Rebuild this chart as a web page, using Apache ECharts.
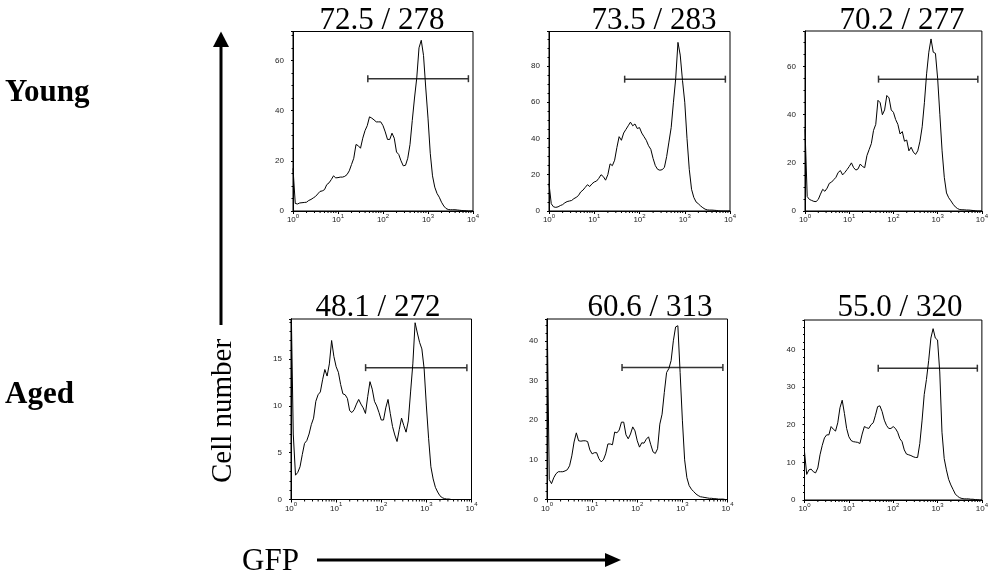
<!DOCTYPE html>
<html>
<head>
<meta charset="utf-8">
<title>GFP histograms, young vs aged</title>
<script src="https://cdn.jsdelivr.net/npm/echarts@6/dist/echarts.min.js"></script>
<style>
    html, body {margin: 0; padding: 0; background: #fff;}
    #main {width: 991px; height: 577px;}
</style>
</head>
<body>
<div id="main"></div>
<script>
// GFP bin centres, in decades (10^0 .. 10^4)
var gfpExp = [0, 0.05, 0.1, 0.15, 0.2, 0.25, 0.3, 0.35, 0.4, 0.45,
    0.5, 0.55, 0.6, 0.65, 0.7, 0.75, 0.8, 0.85, 0.9, 0.95,
    1, 1.05, 1.1, 1.15, 1.2, 1.25, 1.3, 1.35, 1.4, 1.45,
    1.5, 1.55, 1.6, 1.65, 1.7, 1.75, 1.8, 1.85, 1.9, 1.95,
    2, 2.05, 2.1, 2.15, 2.2, 2.25, 2.3, 2.35, 2.4, 2.45,
    2.5, 2.55, 2.6, 2.65, 2.7, 2.75, 2.8, 2.85, 2.9, 2.95,
    3, 3.05, 3.1, 3.15, 3.2, 3.25, 3.3, 3.35, 3.4, 3.45,
    3.5, 3.55, 3.6, 3.65, 3.7, 3.75, 3.8, 3.85, 3.9, 3.95,
    4];

// cell number per bin
var young1 = [17, 3, 2.8, 3.2, 3.3, 3.4, 3.5, 4.2, 4.6, 5.2,
    5.8, 6.8, 7.8, 8, 8.5, 10.5, 11.2, 12.5, 14, 13.2,
    13.3, 13.5, 13.5, 13.8, 14.5, 16, 18.5, 21, 26.5, 26,
    25, 29, 32, 34, 37.5, 37, 36.3, 35.5, 35.5, 35.5,
    34, 31.5, 28.5, 28.5, 31, 29, 23.5, 22.5, 20, 18,
    18.2, 21, 26.5, 36, 45, 53, 65, 68, 62, 49,
    37, 23, 14, 9.5, 7, 5.5, 3.5, 2, 1, 0.6,
    0.5, 0.5, 0.5, 0.4, 0.3, 0.2, 0.1, 0.1, 0, 0,
    0];
var young2 = [15, 4, 2.3, 2, 2.3, 3, 3.5, 4.5, 5.2, 5.5,
    5.8, 6.8, 7.5, 8.5, 10.5, 11.5, 13, 14.5, 13.5, 15,
    16, 16.5, 18, 20, 19, 17, 20, 26, 25, 28,
    35, 41, 39, 43, 45, 47, 49, 47, 48, 45.5,
    46, 43, 41, 39, 36, 34, 29, 25, 23, 22.5,
    22.8, 24, 30, 38, 46, 60, 73, 93, 86, 72,
    60, 40, 23, 12, 7.5, 5, 4, 2.8, 1.8, 1,
    0.6, 0.5, 0.5, 0.4, 0.3, 0.1, 0, 0, 0, 0,
    0];
var young3 = [34, 6, 4.8, 4.4, 4, 3.9, 4.8, 7, 9, 8.2,
    9.5, 11.5, 12, 13, 14, 16, 16.8, 15, 16, 17.2,
    18.5, 20, 18, 17, 17.5, 19.5, 18.5, 18, 23, 25.5,
    28, 33.5, 36, 46, 45, 40, 42, 48, 47, 42,
    41, 38, 36, 32, 33, 29, 29.5, 25, 26.5, 24.5,
    23.5, 25, 29, 35, 45, 57, 66, 71.5, 66, 65.5,
    55, 40, 25, 14, 7.5, 5.5, 4.2, 2.8, 1.7, 1,
    0.6, 0.5, 0.5, 0.4, 0.4, 0.3, 0.2, 0.1, 0, 0,
    0];
var aged1 = [22, 7, 2.6, 2.9, 3.5, 4.8, 6, 6.3, 7, 8,
    8.7, 10.5, 11.2, 11.5, 12.8, 13.9, 13.2, 14.5, 17, 15.3,
    14.2, 13.6, 12.3, 11.3, 11.2, 10.8, 9.5, 9.3, 9.6, 10.2,
    10.7, 10.2, 9.8, 9.2, 11, 12.6, 11.8, 10.5, 10, 9.3,
    8.5, 8.5, 9.8, 10.7, 9.2, 7.8, 6.9, 6.2, 7.5, 8.7,
    7.9, 7.2, 8.4, 11.5, 14.5, 18.9, 17.8, 16.8, 16.1, 14,
    10, 6.5, 3.5, 2.2, 1.3, 0.8, 0.4, 0.2, 0.1, 0.05,
    0.05, 0, 0, 0, 0, 0, 0, 0, 0, 0,
    0];
var aged2 = [50, 5, 4, 5.5, 6.5, 7, 7, 7, 7.2, 7.5,
    8.5, 11, 14.5, 16.8, 14.8, 14.7, 14.8, 14.8, 14.6, 12.5,
    11.5, 11.8, 11.8, 10.3, 9.5, 10, 11.5, 14, 14, 13.8,
    17, 16.8, 17.5, 19.5, 19.5, 16.3, 15.3, 16.5, 18.3, 17.3,
    14.8, 13.2, 14.3, 14.2, 15.2, 15.8, 13.8, 12, 11.6, 12.8,
    19, 21.5, 27, 32, 33, 35, 40, 43.5, 43.8, 32,
    20, 10, 5.5, 3.5, 2.6, 2, 1.4, 1, 0.7, 0.6,
    0.5, 0.4, 0.3, 0.3, 0.2, 0.2, 0.1, 0.1, 0.1, 0,
    0];
var aged3 = [12.8, 6.8, 8, 8.2, 7.5, 7.2, 8.5, 12, 14.5, 16.5,
    17.3, 17.3, 19.5, 18.8, 18.3, 20.5, 24.5, 26.5, 23, 19,
    16.8, 15.8, 15.5, 15.4, 15.3, 15, 17.5, 19.5, 19.2, 19,
    20, 20.5, 22.5, 24.8, 25, 23.5, 21.2, 19.8, 19, 19,
    19.5, 19, 18, 16.3, 15.5, 13.3, 12.2, 12, 11.8, 11.5,
    11.3, 11.3, 15, 21, 28, 32, 37, 43, 45.5, 43,
    42.5, 34, 18, 11, 8, 5.5, 4, 2.8, 1.6, 1,
    0.6, 0.4, 0.3, 0.3, 0.3, 0.2, 0.2, 0.1, 0.1, 0,
    0];

var panelData = [young1, young2, young3, aged1, aged2, aged3];
var panelTitles = ['72.5 / 278', '73.5 / 283', '70.2 / 277', '48.1 / 272', '60.6 / 313', '55.0 / 320'];

// y axis range / step of each panel
var yMax = [71.5, 99, 74.8, 19.3, 45.5, 47.8];
var yStep = [20, 20, 20, 5, 10, 10];
var yMinorSplit = [4, 4, 4, 5, 5, 5];

// GFP+ gate (from, to, at height)
var gateLo = [46, 47, 46, 45, 46, 46];
var gateHi = [7900, 7900, 8100, 7900, 7900, 7900];
var gateY = [52.7, 72.7, 54.8, 14.1, 33.3, 35];

// log minor ticks on the GFP axis
var minorTickVals = [2, 3, 4, 5, 6, 7, 8, 9,
    20, 30, 40, 50, 60, 70, 80, 90,
    200, 300, 400, 500, 600, 700, 800, 900,
    2000, 3000, 4000, 5000, 6000, 7000, 8000, 9000];

// panel boxes in px [left, top, width, height] and title centre [x, y]
var boxes = [
    [293, 31.5, 180, 179.5], [549, 31.5, 181, 179.5], [805, 31, 180, 180],
    [291, 319, 180.5, 180.5], [547, 319, 180.5, 180.5], [804.5, 320, 180.5, 180]
];
var titlePos = [[382, 21], [654, 21], [902, 21], [378, 308], [650, 308], [900, 308]];

var serifFont = '"Liberation Serif", "Times New Roman", serif';
var sansFont = '"Liberation Sans", Arial, sans-serif';

function renderMinorTick(params, api) {
    var p = api.coord([api.value(0), 0]);
    return {
        type: 'line',
        shape: {x1: p[0], y1: p[1], x2: p[0], y2: p[1] + 2},
        style: {stroke: '#000', lineWidth: 1}
    };
}

function renderGate(params, api) {
    var a = api.coord([api.value(0), api.value(2)]);
    var b = api.coord([api.value(1), api.value(2)]);
    var st = {stroke: '#333', lineWidth: 1.5};
    return {
        type: 'group',
        children: [
            {type: 'line', shape: {x1: a[0], y1: a[1], x2: b[0], y2: b[1]}, style: st},
            {type: 'line', shape: {x1: a[0], y1: a[1] - 3.5, x2: a[0], y2: a[1] + 3.5}, style: st},
            {type: 'line', shape: {x1: b[0], y1: b[1] - 3.5, x2: b[0], y2: b[1] + 3.5}, style: st}
        ]
    };
}

var grids = [], xAxes = [], yAxes = [], series = [], graphics = [];

for (var i = 0; i < panelData.length; i++) {
    var bx = boxes[i];
    grids.push({
        left: bx[0], top: bx[1], width: bx[2], height: bx[3],
        show: true,
        borderColor: '#000',
        borderWidth: 1,
        backgroundColor: 'rgba(0,0,0,0)'
    });

    xAxes.push({
        type: 'log',
        logBase: 10,
        gridIndex: i,
        min: 1,
        max: 10000,
        axisLine: {show: true, onZero: false, lineStyle: {color: '#000', width: 1}},
        axisTick: {show: true, length: 3, lineStyle: {color: '#000'}},
        splitLine: {show: false},
        axisLabel: {
            margin: 2,
            color: '#222',
            fontFamily: sansFont,
            showMinLabel: true,
            showMaxLabel: true,
            formatter: function (v) {
                return '{b|10}{s|' + Math.round(Math.log(v) / Math.LN10) + '}';
            },
            rich: {
                b: {fontSize: 8, lineHeight: 11, verticalAlign: 'bottom', fontFamily: sansFont, color: '#222'},
                s: {fontSize: 6, lineHeight: 6, verticalAlign: 'top', fontFamily: sansFont, color: '#222'}
            }
        }
    });

    yAxes.push({
        type: 'value',
        gridIndex: i,
        min: 0,
        max: yMax[i],
        interval: yStep[i],
        axisLine: {show: true, lineStyle: {color: '#000', width: 1}},
        axisTick: {show: true, length: 2, lineStyle: {color: '#000'}},
        minorTick: {show: true, splitNumber: yMinorSplit[i], length: 1.5, lineStyle: {color: '#000'}},
        splitLine: {show: false},
        axisLabel: {
            margin: 9,
            fontSize: 8,
            color: '#222',
            fontFamily: sansFont,
            showMaxLabel: false
        }
    });

    // histogram trace
    var pts = [];
    for (var j = 0; j < gfpExp.length; j++) {
        pts.push([Math.pow(10, gfpExp[j]), panelData[i][j]]);
    }
    series.push({
        type: 'line',
        xAxisIndex: i,
        yAxisIndex: i,
        data: pts,
        showSymbol: false,
        symbol: 'none',
        clip: true,
        silent: true,
        lineStyle: {color: '#000', width: 1}
    });

    // gate bar
    series.push({
        type: 'custom',
        xAxisIndex: i,
        yAxisIndex: i,
        renderItem: renderGate,
        encode: {x: [0, 1], y: 2},
        data: [[gateLo[i], gateHi[i], gateY[i]]],
        silent: true,
        clip: false,
        z: 3
    });

    // minor log ticks
    var mt = [];
    for (var k = 0; k < minorTickVals.length; k++) {
        mt.push([minorTickVals[k], 0]);
    }
    series.push({
        type: 'custom',
        xAxisIndex: i,
        yAxisIndex: i,
        renderItem: renderMinorTick,
        data: mt,
        silent: true,
        clip: false
    });

    // panel header
    graphics.push({
        type: 'text',
        x: titlePos[i][0],
        y: titlePos[i][1],
        z: -1,
        style: {
            text: panelTitles[i],
            font: '31px ' + serifFont,
            fill: '#000',
            align: 'center',
            verticalAlign: 'middle'
        }
    });
}

// row labels
graphics.push({
    type: 'text', x: 5, y: 93,
    style: {text: 'Young', font: 'bold 31px ' + serifFont, fill: '#000', align: 'left', verticalAlign: 'middle'}
});
graphics.push({
    type: 'text', x: 5, y: 395,
    style: {text: 'Aged', font: 'bold 31px ' + serifFont, fill: '#000', align: 'left', verticalAlign: 'middle'}
});

// cell number arrow
graphics.push({
    type: 'line',
    shape: {x1: 221, y1: 325, x2: 221, y2: 45},
    style: {stroke: '#000', lineWidth: 3}
});
graphics.push({
    type: 'polygon',
    shape: {points: [[221, 31.5], [213, 47], [229, 47]]},
    style: {fill: '#000'}
});
graphics.push({
    type: 'text', x: 223, y: 411, rotation: Math.PI / 2,
    style: {text: 'Cell number', font: '29px ' + serifFont, fill: '#000', align: 'center', verticalAlign: 'middle'}
});

// GFP arrow
graphics.push({
    type: 'text', x: 242, y: 562,
    style: {text: 'GFP', font: '31px ' + serifFont, fill: '#000', align: 'left', verticalAlign: 'middle'}
});
graphics.push({
    type: 'line',
    shape: {x1: 317, y1: 560, x2: 607, y2: 560},
    style: {stroke: '#000', lineWidth: 3}
});
graphics.push({
    type: 'polygon',
    shape: {points: [[621, 560], [605, 553], [605, 567]]},
    style: {fill: '#000'}
});

var myChart = echarts.init(document.getElementById('main'), null, {renderer: 'canvas'});
var option = {
    backgroundColor: '#fff',
    animation: false,
    grid: grids,
    xAxis: xAxes,
    yAxis: yAxes,
    series: series,
    graphic: graphics
};
myChart.setOption(option);
</script>
</body>
</html>
